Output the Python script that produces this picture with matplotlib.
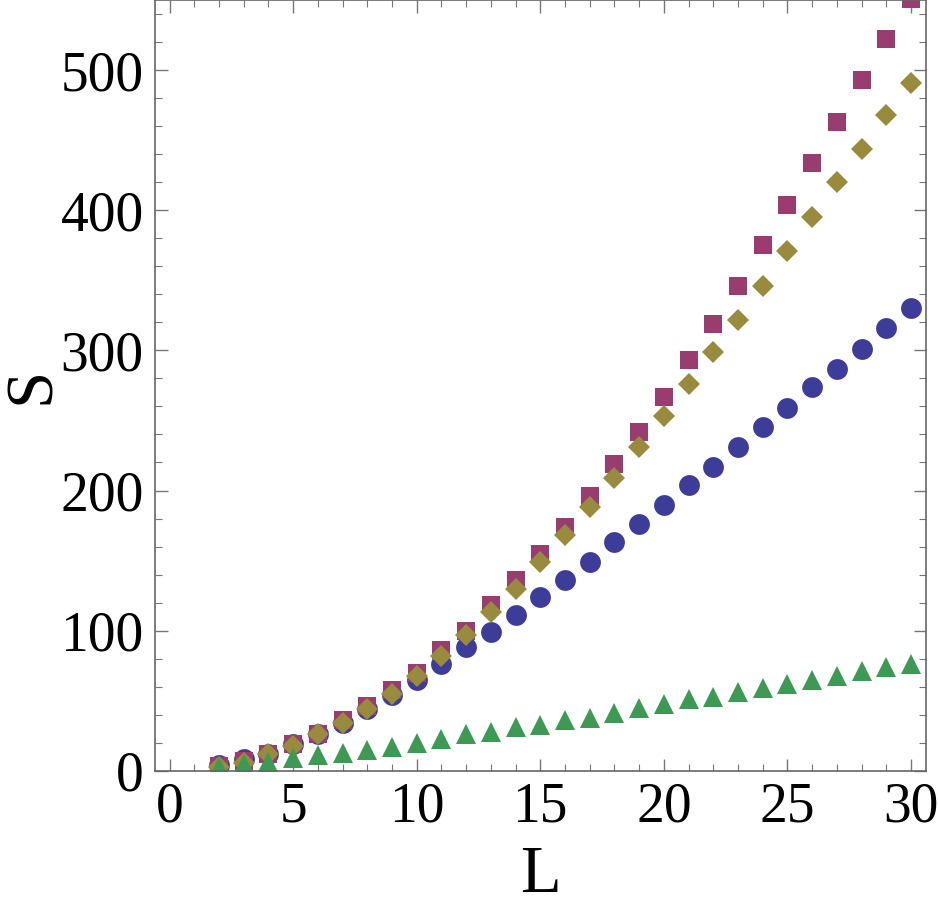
import matplotlib
matplotlib.use('Agg')
import matplotlib.pyplot as plt
from matplotlib.ticker import MultipleLocator

# sizes L = 2..30
L = list(range(2, 31))

# blue circles
s_circle = [4.5, 8.5, 12, 19, 26, 34, 44, 54, 65, 76, 88, 99, 111, 124, 136,
            149, 163, 176, 190, 204, 217, 231, 245, 259, 274, 287, 301, 316, 330]
# magenta squares
s_square = [3.6, 7, 12, 19, 26, 36, 46, 58, 70, 86, 100, 118, 136, 155, 174,
            196, 219, 242, 267, 293, 319, 346, 375, 404, 434, 463, 493, 522, 551]
# gold diamonds
s_diamond = [3, 5.5, 12, 18, 26, 34, 44, 55, 68, 82, 97, 113, 130, 149, 168,
             188, 209, 231, 253, 276, 299, 322, 346, 371, 395, 420, 444, 468, 491]
# green triangles
s_triangle = [3, 5, 6.5, 9, 11, 13, 15, 17, 20, 23, 26, 28, 31, 33, 36,
              38, 41, 45, 48, 51, 53, 56, 59, 62, 65, 68, 71, 74, 76]

blue = '#3d3d99'
magenta = '#993d71'
gold = '#998b3d'
green = '#3d9954'

plt.rcParams['font.family'] = ['Liberation Serif', 'DejaVu Serif']

fig = plt.figure(figsize=(9.38, 9.09), dpi=100)
ax = fig.add_axes([0.165, 0.152, 0.822, 0.848])

ax.plot(L, s_circle, 'o', color=blue, markersize=15, markeredgewidth=0)
ax.plot(L, s_square, 's', color=magenta, markersize=13, markeredgewidth=0)
ax.plot(L, s_diamond, 'D', color=gold, markersize=11, markeredgewidth=0)
ax.plot(L, s_triangle, '^', color=green, markersize=14.5, markeredgewidth=0)

ax.set_xlim(-0.6, 30.6)
ax.set_ylim(0, 550)
ax.xaxis.set_major_locator(MultipleLocator(5))
ax.xaxis.set_minor_locator(MultipleLocator(1))
ax.yaxis.set_major_locator(MultipleLocator(100))
ax.yaxis.set_minor_locator(MultipleLocator(20))

for sp in ax.spines.values():
    sp.set_color('#666666')
    sp.set_linewidth(1.2)

ax.tick_params(which='both', direction='in', top=True, right=True,
               color='#777777', labelsize=40, pad=8)
ax.tick_params(which='major', length=9, width=1.0)
ax.tick_params(which='minor', length=5, width=0.8)

ax.set_xlabel('L', fontsize=48, labelpad=8)
ax.set_ylabel('S', fontsize=48, va='center')
ax.yaxis.set_label_coords(-0.158, 0.5)

fig.savefig('out.png', dpi=100)
